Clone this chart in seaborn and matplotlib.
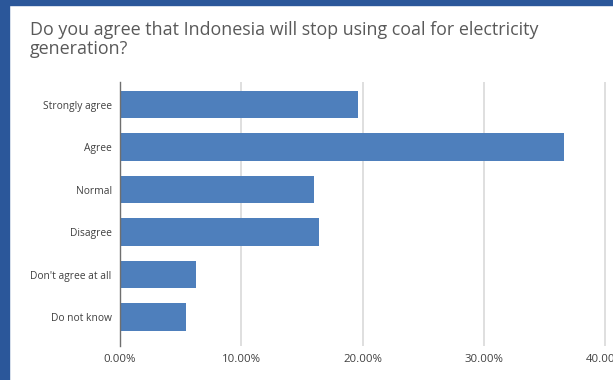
import matplotlib
matplotlib.use("Agg")
import matplotlib.pyplot as plt
import seaborn as sns
import pandas as pd
from matplotlib.patches import Rectangle

categories = ["Strongly agree", "Agree", "Normal", "Disagree", "Don't agree at all", "Do not know"]
values = [19.6, 36.6, 16.0, 16.4, 6.3, 5.4]
tick_values = [0, 10, 20, 30, 40]
tick_labels = ["0.00%", "10.00%", "20.00%", "30.00%", "40.00%"]
title = "Do you agree that Indonesia will stop using coal for electricity\ngeneration?"

sns.set_theme(style="white")
plt.rcParams['font.family'] = ['Open Sans', 'DejaVu Sans']

df = pd.DataFrame({"category": categories, "value": values})

W, H = 613, 380
fig = plt.figure(figsize=(W / 100, H / 100), dpi=100)
fig.patch.set_facecolor("white")

# blue frame (left and top)
fig.patches.append(Rectangle((0, 0), 9 / W, 1, transform=fig.transFigure, color="#2b579a", zorder=0))
fig.patches.append(Rectangle((0, 1 - 5 / H), 1, 5 / H, transform=fig.transFigure, color="#2b579a", zorder=0))

left, right = 120 / W, 1.0
top, bottom = 1 - 82 / H, 1 - 346 / H
ax = fig.add_axes([left, bottom, right - left, top - bottom])

sns.barplot(data=df, x="value", y="category", orient="h", color="#4e7fbc",
            width=0.64, saturation=1, ax=ax, zorder=3, edgecolor="none")

ax.set_xlim(0, (W - 120) / 12.13)
ax.set_ylim(5.68, -0.53)
ax.set_xticks(tick_values)
ax.set_xticklabels(tick_labels)
ax.xaxis.grid(True, color="#d9d9d9", linewidth=1.2, zorder=0)
ax.set_axisbelow(True)
ax.set_xlabel("")
ax.set_ylabel("")
for s in ["top", "right", "bottom"]:
    ax.spines[s].set_visible(False)
ax.spines["left"].set_color("#6f6f6f")
ax.spines["left"].set_linewidth(1.0)
ax.spines["left"].set_zorder(5)
ax.tick_params(axis="both", length=0, labelcolor="#404040")
ax.tick_params(axis="y", labelsize=7.4, pad=6)
ax.tick_params(axis="x", labelsize=8.2, pad=6)

fig.text(30 / W, 1 - 21 / H, title, ha="left", va="top", fontsize=12.9,
         color="#595959", linespacing=1.05)

fig.savefig("out.png", dpi=100, facecolor="white")
